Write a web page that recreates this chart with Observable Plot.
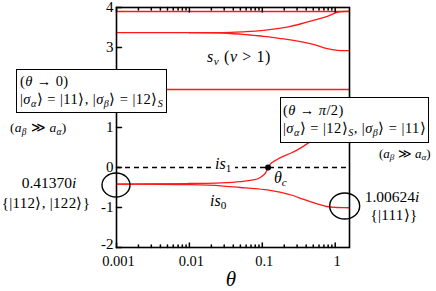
<!DOCTYPE html>
<html><head><meta charset="utf-8">
<script src="https://cdn.jsdelivr.net/npm/d3@7"></script>
<script src="https://cdn.jsdelivr.net/npm/@observablehq/plot@0.6"></script>
<style>
body{margin:0;background:#fff;}
#wrap{position:relative;width:436px;height:291px;font-family:"Liberation Serif","Times New Roman",serif;color:#000;overflow:hidden;}
#wrap svg{position:absolute;left:0;top:0;}
.a{position:absolute;white-space:nowrap;line-height:1;}
.box{position:absolute;border:1.5px solid #000;background:#fff;box-sizing:border-box;}
sub{font-size:0.7em;vertical-align:-0.3em;line-height:0;}
</style></head><body><div id="wrap"></div>
<script>
// ---- data ----
const thetaDomain = [0.001, Math.PI / 2];
const yDomain = [-2, 4];
const xTickValues = [0.001, 0.01, 0.1, 1];
const xTickLabels = ["0.001", "0.01", "0.1", "1"];
const yTickValues = [-2, -1, 0, 1, 2, 3, 4];
const yLabelValues = [-2, -1, 0, 1, 3, 4];
const yTickLabels = ["-2", "-1", "0", "1", "3", "4"];

const sTopTheta = [0.001, Math.PI / 2];
const sTopValue = [3.9, 3.9];
const sMidTheta = [0.001, 0.01];
const sMidValue = [3.37, 3.37];
const sUpperTheta = [0.01, 0.02, 0.037, 0.06, 0.105, 0.17, 0.244, 0.35, 0.5, 0.78, 1.07, 1.3, Math.PI / 2];
const sUpperValue = [3.37, 3.372, 3.38, 3.395, 3.43, 3.48, 3.53, 3.6, 3.68, 3.78, 3.88, 3.9, 3.91];
const sLowerTheta = [0.01, 0.02, 0.037, 0.06, 0.105, 0.17, 0.244, 0.35, 0.5, 0.78, 1.07, 1.3, Math.PI / 2];
const sLowerValue = [3.37, 3.365, 3.35, 3.32, 3.28, 3.23, 3.19, 3.14, 3.08, 2.97, 2.93, 2.92, 2.92];
const s1Theta = [0.001, Math.PI / 2];
const s1Value = [1.95, 1.95];
const is1Theta = [0.001, 0.003, 0.01, 0.027, 0.05, 0.075, 0.09, 0.102, 0.112, 0.12, 0.128, 0.14, 0.16, 0.19, 0.24, 0.29, 0.41, 0.6, 0.9, 1.2, Math.PI / 2];
const is1Value = [-0.414, -0.412, -0.40, -0.385, -0.355, -0.31, -0.27, -0.2, -0.12, 0, 0.08, 0.14, 0.2, 0.27, 0.35, 0.42, 0.59, 0.8, 1.0, 1.15, 1.25];
const is0Theta = [0.001, 0.003, 0.01, 0.027, 0.05, 0.08, 0.127, 0.18, 0.262, 0.36, 0.49, 0.62, 0.76, 1.04, 1.3, Math.PI / 2];
const is0Value = [-0.414, -0.418, -0.43, -0.46, -0.5, -0.53, -0.57, -0.62, -0.70, -0.79, -0.87, -0.93, -0.975, -1.0, -1.005, -1.006];
const thetaC = [0.12];
const thetaCValue = [0];
const ellipseTheta = [0.001, 1.37];
const ellipseValue = [-0.45, -0.975];

// ---- build tables ----
const curves = [
  ["sTop", sTopTheta, sTopValue], ["sMid", sMidTheta, sMidValue],
  ["sUp", sUpperTheta, sUpperValue], ["sLow", sLowerTheta, sLowerValue],
  ["s1", s1Theta, s1Value], ["is1", is1Theta, is1Value], ["is0", is0Theta, is0Value]
].flatMap(([k, t, v]) => t.map((tt, i) => ({k, t: tt, v: v[i]})));

const minor = [];
for (const dec of xTickValues) for (let m = 2; m <= 9; m++) { const v = m * dec; if (v <= thetaDomain[1]) minor.push(v); }

const tickShape = {draw(ctx, l) { ctx.moveTo(0, 0); ctx.lineTo(0, -l); }};
const yFmt = d => yTickLabels[yLabelValues.indexOf(d)];

const chart = Plot.plot({
  width: 436, height: 291,
  marginLeft: 116, marginRight: 87, marginTop: 7, marginBottom: 44,
  style: {fontFamily: "'Liberation Serif', 'Times New Roman', serif", fontSize: "15px", background: "transparent", overflow: "visible"},
  x: {type: "log", domain: thetaDomain},
  y: {domain: yDomain},
  marks: [
    Plot.axisY({ticks: yLabelValues.slice(1), tickSize: 0, tickPadding: 3, fontSize: 15, tickFormat: yFmt, label: null}),
    Plot.axisY({ticks: yLabelValues.slice(0, 1), tickSize: 0, tickPadding: 3, fontSize: 15, dy: -3, tickFormat: yFmt, label: null}),
    Plot.axisX({ticks: xTickValues, tickSize: 0, tickPadding: 8, fontSize: 14.5, dx: 2, tickFormat: d => xTickLabels[xTickValues.indexOf(d)], label: null}),
    Plot.ruleY([0], {stroke: "black", strokeWidth: 1.3, strokeDasharray: "5,4"}),
    Plot.line(curves, {x: "t", y: "v", z: "k", stroke: "#ff1a1a", strokeWidth: 1.3, curve: "monotone-x"}),
    Plot.vector(xTickValues, {x: d => d, y: yDomain[0], length: 4.5, rotate: 0, anchor: "start", shape: tickShape, stroke: "black"}),
    Plot.vector(minor, {x: d => d, y: yDomain[0], length: 2.5, rotate: 0, anchor: "start", shape: tickShape, stroke: "black"}),
    Plot.vector(xTickValues, {x: d => d, y: yDomain[1], length: 4.5, rotate: 180, anchor: "start", shape: tickShape, stroke: "black"}),
    Plot.vector(minor, {x: d => d, y: yDomain[1], length: 2.5, rotate: 180, anchor: "start", shape: tickShape, stroke: "black"}),
    Plot.vector(yTickValues, {x: thetaDomain[0], y: d => d, length: 5, rotate: 90, anchor: "start", shape: tickShape, stroke: "black"}),
    Plot.frame({stroke: "black", strokeWidth: 1.6}),
    Plot.dot(thetaC.map((t, i) => ({t, v: thetaCValue[i]})), {x: "t", y: "v", r: 3, fill: "black", stroke: "none"})
  ]
});

const xs = chart.scale("x"), ys = chart.scale("y");
const g = d3.select(chart).append("g");
const radii = [[14, 12], [15, 13]];
ellipseTheta.forEach((t, i) => {
  g.append("ellipse").attr("cx", xs.apply(t)).attr("cy", ys.apply(ellipseValue[i]))
    .attr("rx", radii[i][0]).attr("ry", radii[i][1])
    .attr("fill", "none").attr("stroke", "black").attr("stroke-width", 1.4);
});

const wrap = document.getElementById("wrap");
wrap.appendChild(chart);

function box(x1, y1, x2, y2) {
  const d = document.createElement("div");
  d.className = "box";
  Object.assign(d.style, {left: x1 + "px", top: y1 + "px", width: (x2 - x1) + "px", height: (y2 - y1) + "px"});
  wrap.appendChild(d);
}
function label(html, x, y, size, align = "left", extra = {}) {
  const d = document.createElement("div");
  d.className = "a";
  d.innerHTML = html;
  const tx = align === "center" ? "-50%" : "0";
  Object.assign(d.style, {left: x + "px", top: y + "px", fontSize: size + "px", transform: `translate(${tx},-50%)`}, extra);
  wrap.appendChild(d);
}
const sa = "<i>σ</i><sub><i>α</i></sub>", sb = "<i>σ</i><sub><i>β</i></sub>";
const ab = "(<i>a</i><sub><i>β</i></sub> ≫ <i>a</i><sub><i>α</i></sub>)";
const wide = {letterSpacing: "0.45px"};

box(16, 69, 167, 113);
label("(<i>θ</i> → 0)", 20, 81, 14.5, "left", {letterSpacing: "0.4px"});
label(`|${sa}⟩ = |11⟩, |${sb}⟩ = |12⟩<sub><i>S</i></sub>`, 20, 99, 14.5, "left", wide);
label(ab, 10, 128, 13.5, "left", {letterSpacing: "0.3px"});

box(280, 97, 429, 143);
label("(<i>θ</i> → <i>π</i>/2)", 283, 110, 14.5, "left", {letterSpacing: "0.4px"});
label(`|${sa}⟩ = |12⟩<sub><i>S</i></sub>, |${sb}⟩ = |11⟩`, 283, 128, 14.5, "left", wide);
label(ab, 379, 153, 13, "left");

label("<i>s</i><sub><i>ν</i></sub> (<i>ν</i> &gt; 1)", 207, 57, 16, "left", {letterSpacing: "0.6px"});
label("<i>is</i><sub>1</sub>", 211, 164, 16, "left", {background: "#fff", padding: "0 4px"});
label("<i>is</i><sub>0</sub>", 210, 201, 16);
label("<i>θ</i><sub><i>c</i></sub>", 274, 178, 16);
label("0.41370<i>i</i>", 49, 183, 15.5, "center");
label("{|112⟩, |122⟩}", 46, 203, 15, "center", {letterSpacing: "0.3px"});
label("1.00624<i>i</i>", 392, 197, 15.5, "center");
label("{|111⟩}", 394, 215, 15, "center", {letterSpacing: "0.3px"});
label("<i>θ</i>", 231, 279, 21, "center");
</script>
</body></html>
